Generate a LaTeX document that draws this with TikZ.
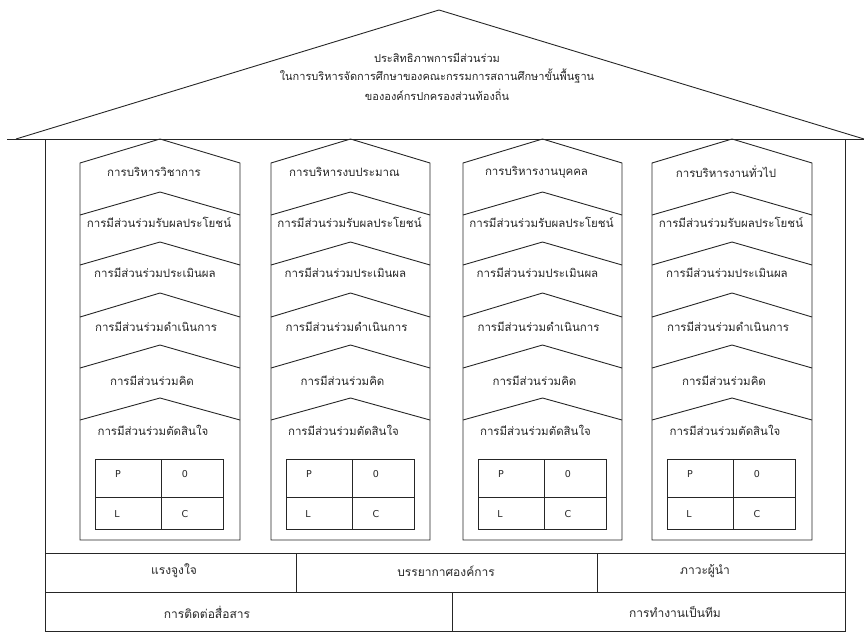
\documentclass[tikz,border=0pt]{standalone}
\usepackage{fontspec}
\newfontfamily\thaifont[Script=Thai]{Loma}
\newfontfamily\latinfont{DejaVu Sans}
\begin{document}
\begin{tikzpicture}[x=1pt,y=-1pt,
  ln/.style={draw=black!85,line width=0.9pt},
  lbl/.style={font=\thaifont\fontsize{11.5}{13}\selectfont,inner sep=0pt,text=black!85},
  bl/.style={font=\thaifont\fontsize{12}{14}\selectfont,inner sep=0pt,text=black!85},
  ltr/.style={font=\latinfont\fontsize{9.5}{11}\selectfont,inner sep=0pt,text=black!85}]
\useasboundingbox (0,0) rectangle (864,632);
% roof
\draw[ln] (16,139) -- (439,10) -- (864,139);
\draw[ln] (7,139) -- (864,139);
% walls
\draw[ln] (45,139) -- (45,632);
\draw[ln] (845,139) -- (845,632);
\node[font=\thaifont\fontsize{11}{13}\selectfont,inner sep=0pt,text=black!85,align=center] (title) at (437,77) {ประสิทธิภาพการมีส่วนร่วม\\[5pt]ในการบริหารจัดการศึกษาของคณะกรรมการสถานศึกษาขั้นพื้นฐาน\\[5pt]ขององค์กรปกครองส่วนท้องถิ่น};
% columns
\foreach \L/\R/\C/\name/\id in {80/240/160/การบริหารวิชาการ/a, 271/430/350.5/การบริหารงบประมาณ/b, 463/622/542.5/การบริหารงานบุคคล/c, 652/812/732/การบริหารงานทั่วไป/d}{
  \draw[ln] (\L,540) -- (\L,163) -- (\C,139) -- (\R,163) -- (\R,540) -- cycle;
  \foreach \ap/\sh in {192/215, 242/265, 293/317, 345/368, 398/420}{
    \draw[ln] (\L,\sh) -- (\C,\ap) -- (\R,\sh);
  }
  \node[lbl] (h\id) at (\C-6,172) {\name};
  \node[lbl] (r\id) at (\C-1,222) {การมีส่วนร่วมรับผลประโยชน์};
  \node[lbl] (e\id) at (\C-5,273) {การมีส่วนร่วมประเมินผล};
  \node[lbl] (o\id) at (\C-4,327) {การมีส่วนร่วมดำเนินการ};
  \node[lbl] (k\id) at (\C-8,381) {การมีส่วนร่วมคิด};
  \node[lbl] (s\id) at (\C-7,430) {การมีส่วนร่วมตัดสินใจ};
  \draw[ln] (\L+15,459) rectangle (\L+143,529);
  \draw[ln] (\L+81,459) -- (\L+81,529);
  \draw[ln] (\L+15,497) -- (\L+143,497);
  \node[ltr] (p\id) at (\L+38,474) {P};
  \node[ltr] (z\id) at (\L+105,474) {0};
  \node[ltr] (l\id) at (\L+37,514) {L};
  \node[ltr] (c\id) at (\L+105,514) {C};
}
% bottom rows
\draw[ln] (45,553) -- (845,553);
\draw[ln] (45,592) -- (845,592);
\draw[ln] (45,631.5) -- (845,631.5);
\draw[ln] (296,553) -- (296,592);
\draw[ln] (597,553) -- (597,592);
\draw[ln] (452,592) -- (452,632);
\node[bl] (m1) at (174,571) {แรงจูงใจ};
\node[bl] (m2) at (446,571) {บรรยากาศองค์การ};
\node[bl] (m3) at (705,571) {ภาวะผู้นำ};
\node[bl] (m4) at (207,612) {การติดต่อสื่อสาร};
\node[bl] (m5) at (675,612) {การทำงานเป็นทีม};
\end{tikzpicture}
\end{document}
